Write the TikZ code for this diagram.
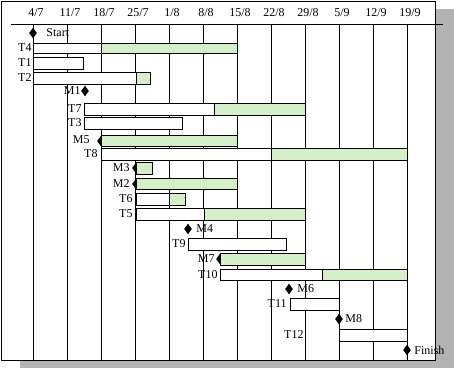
\documentclass[tikz,border=0pt]{standalone}
\usepackage{fontspec}
\setmainfont{Liberation Serif}
\usetikzlibrary{shapes.geometric}
\definecolor{donegreen}{RGB}{213,239,201}
\definecolor{shadowgray}{RGB}{179,179,179}

\begin{document}
\begin{tikzpicture}[x=1pt,y=-1pt,line width=0.9pt,
    font=\fontsize{12}{14}\selectfont,
    todo/.style={draw,fill=white},
    done/.style={draw,fill=donegreen},
    milestone/.style={diamond,fill=black,inner sep=0pt,
        minimum width=8pt,minimum height=11pt},
    lbl/.style={inner sep=1pt}]
    \useasboundingbox (0,0) rectangle (454,372);
    % shadow, frame and header
    \fill[shadowgray] (20,9) rectangle (454,368);
    \draw[fill=white] (1,1) rectangle (435,360);
    \draw (11,24) -- (443,24);
    \foreach \d [count=\i from 0] in {4/7,11/7,18/7,25/7,1/8,8/8,15/8,22/8,29/8,5/9,12/9,19/9}{
        \draw (33+34*\i,24) -- (33+34*\i,360);
        \node[lbl] (wk\i) at (36+34*\i,12.5) {\d};
    }
    % milestones
    \node[milestone] (start) at (33,33) {};
    \node[milestone] (m1) at (85,91) {};
    \node[milestone] (m5) at (101,141) {};
    \node[milestone] (m3) at (136,168) {};
    \node[milestone] (m2) at (136,184) {};
    \node[milestone] (m4) at (188,229) {};
    \node[milestone] (m7) at (220,259) {};
    \node[milestone] (m6) at (289,289) {};
    \node[milestone] (m8) at (339,319) {};
    \node[milestone] (finish) at (407,350) {};
    % task bars
    \draw[todo] (33,43) rectangle (101,53.5);
    \draw[done] (101,43) rectangle (237,53.5);
    \draw[todo] (33,57.5) rectangle (83,69);
    \draw[todo] (33,72) rectangle (136,84);
    \draw[done] (136,72) rectangle (150,84);
    \draw[todo] (84,103) rectangle (214,115.5);
    \draw[done] (214,103) rectangle (305,115.5);
    \draw[todo] (84,117) rectangle (182,129);
    \draw[done] (101,135) rectangle (237,146.8);
    \draw[todo] (101,148) rectangle (271,160);
    \draw[done] (271,148) rectangle (407,160);
    \draw[done] (136,162.3) rectangle (152,174);
    \draw[done] (136,178.7) rectangle (237,189.3);
    \draw[todo] (136,193) rectangle (169,205.7);
    \draw[done] (169,193) rectangle (185,205.7);
    \draw[todo] (136,208.3) rectangle (204,220);
    \draw[done] (204,208.3) rectangle (305,220);
    \draw[todo] (188.7,238.3) rectangle (286.7,250);
    \draw[done] (220,253.3) rectangle (305,265);
    \draw[todo] (220,269.3) rectangle (322,280.3);
    \draw[done] (322,269.3) rectangle (407,280.3);
    \draw[todo] (290.7,298.3) rectangle (339,310.3);
    \draw[todo] (339,329.3) rectangle (407,341);
    % labels
    \node[lbl,anchor=west] (lstart) at (45,33) {Start};
    \node[lbl,anchor=east] (t4) at (33,48) {T4};
    \node[lbl,anchor=east] (t1) at (33,63) {T1};
    \node[lbl,anchor=east] (t2) at (33,78) {T2};
    \node[lbl,anchor=east] (lm1) at (82,91) {M1};
    \node[lbl,anchor=east] (t7) at (83,109) {T7};
    \node[lbl,anchor=east] (t3) at (83,123) {T3};
    \node[lbl,anchor=east] (lm5) at (91,140) {M5};
    \node[lbl,anchor=east] (t8) at (99,154) {T8};
    \node[lbl,anchor=east] (lm3) at (131,168) {M3};
    \node[lbl,anchor=east] (lm2) at (131,184) {M2};
    \node[lbl,anchor=east] (t6) at (134,199) {T6};
    \node[lbl,anchor=east] (t5) at (134,214) {T5};
    \node[lbl,anchor=west] (lm4) at (195,229) {M4};
    \node[lbl,anchor=east] (t9) at (187,244) {T9};
    \node[lbl,anchor=east] (lm7) at (216,259) {M7};
    \node[lbl,anchor=east] (t10) at (219,275) {T10};
    \node[lbl,anchor=west] (lm6) at (296,289) {M6};
    \node[lbl,anchor=east] (t11) at (288,304) {T11};
    \node[lbl,anchor=west] (lm8) at (344,319) {M8};
    \node[lbl,anchor=east] (t12) at (305,335) {T12};
    \node[lbl,anchor=west] (lfinish) at (413,350) {Finish};
\end{tikzpicture}
\end{document}
